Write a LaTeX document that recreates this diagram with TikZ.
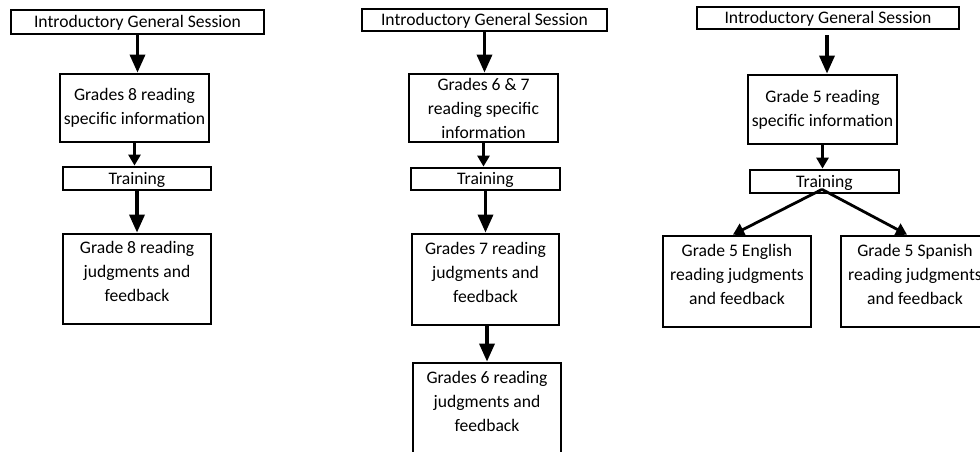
\documentclass[tikz,border=0pt]{standalone}
\usepackage{fontspec}
\setmainfont{Carlito}
\usetikzlibrary{arrows.meta}
% three-line label, set a little above the middle of its box
\newcommand{\liftlines}[1]{\raisebox{6pt}[\height][\depth]{\begin{tabular}{@{}c@{}}#1\end{tabular}}}

\begin{document}
\begin{tikzpicture}[x=1pt,y=-1pt,
  box/.style n args={2}{draw,line width=2.8pt,inner sep=0pt,align=center,
    minimum width=#1,minimum height=#2,font=\fontsize{17.6}{24}\selectfont},
  bar/.style n args={2}{draw,line width=2.8pt,inner sep=0pt,
    text height=12pt,text depth=1pt,
    minimum width=#1,minimum height=#2,font=\fontsize{17.6}{24}\selectfont},
  bigarrow/.style={line width=3.4pt,-{Triangle[length=18pt,width=15pt]}},
  smallarrow/.style={line width=3.2pt,-{Triangle[length=11pt,width=12pt]}},
  splitarrow/.style={line width=2.8pt,-{Triangle[length=11pt,width=13pt]}}]
\useasboundingbox (0,0) rectangle (980,452);
\fill[white] (0,0) rectangle (980,452);
\clip (0,0) rectangle (980,452);

% grade 8 track
\node[bar={253pt}{24pt}] (i1) at (137.5,22) {Introductory General Session};
\node[box={149pt}{68pt}] (g8) at (134.5,108) {Grades 8 reading\\specific information};
\node[bar={148pt}{23pt}] (t1) at (137,178.5) {Training};
\node[box={148pt}{90pt}] (j8) at (137,279) {\liftlines{Grade 8 reading\\judgments and\\feedback}};
\draw[bigarrow] (i1.south) -- (i1.south |- g8.north);
\draw[smallarrow] (g8.south) -- (g8.south |- t1.north);
\draw[bigarrow] (t1.south) -- (t1.south |- j8.north);

% grades 6 and 7 track
\node[bar={245pt}{22pt}] (i2) at (484.5,20) {Introductory General Session};
\node[box={149pt}{68pt}] (g67) at (483.5,108) {Grades 6 \& 7\\reading specific\\information};
\node[bar={149pt}{22pt}] (t2) at (485.5,179) {Training};
\node[box={147pt}{91pt}] (j7) at (485.5,279.5) {\liftlines{Grades 7 reading\\judgments and\\feedback}};
\node[box={148pt}{91pt}] (j6) at (487,408.5) {\liftlines{Grades 6 reading\\judgments and\\feedback}};
\draw[bigarrow] (i2.south) -- (i2.south |- g67.north);
\draw[smallarrow] (g67.south) -- (g67.south |- t2.north);
\draw[bigarrow] (t2.south) -- (t2.south |- j7.north);
\draw[bigarrow] (j6.north |- j7.south) -- (j6.north);

% grade 5 track
\node[bar={262pt}{22pt}] (i3) at (828,18) {Introductory General Session};
\node[box={149pt}{69pt}] (g5) at (822.5,109.5) {Grade 5 reading\\specific information};
\node[bar={149pt}{23pt}] (t3) at (824.5,181.5) {Training};
\node[box={148pt}{91pt}] (en) at (737,281.5) {\liftlines{Grade 5 English\\reading judgments\\and feedback}};
\node[box={148pt}{91pt}] (sp) at (915,281.5) {\liftlines{Grade 5 Spanish\\reading judgments\\and feedback}};
\coordinate (split) at ([xshift=-2.5pt,yshift=5pt]t3.south);
\draw[bigarrow,shorten <=5pt] ([xshift=-1pt]i3.south) -- ([xshift=-1pt]i3.south |- g5.north);
\draw[smallarrow] (g5.south) -- (g5.south |- t3.north);
\draw[splitarrow] (split) -- ([xshift=-4pt]en.north);
\draw[splitarrow] (split) -- ([xshift=-8pt]sp.north);
\end{tikzpicture}
\end{document}
